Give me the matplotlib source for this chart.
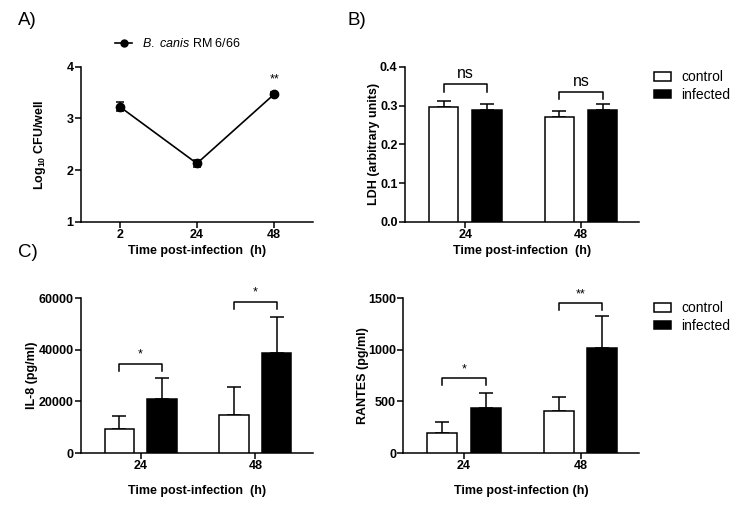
import matplotlib
matplotlib.use("Agg")
import matplotlib.pyplot as plt
from matplotlib.patches import Patch
from matplotlib.lines import Line2D
import numpy as np

plt.rcParams['font.family'] = ['Liberation Sans', 'DejaVu Sans']
plt.rcParams['mathtext.fontset'] = 'custom'
plt.rcParams['mathtext.rm'] = 'Liberation Sans'
plt.rcParams['mathtext.it'] = 'Liberation Sans:italic'
plt.rcParams['mathtext.bf'] = 'Liberation Sans:bold'

# panel A data
cfu_times = ['2', '24', '48']
cfu_mean = [3.23, 2.13, 3.47]
cfu_err = [0.08, 0.07, 0.04]

# bar panels
groups = ['24', '48']
ldh_control = [0.297, 0.271]
ldh_control_err = [0.015, 0.015]
ldh_infected = [0.289, 0.289]
ldh_infected_err = [0.015, 0.016]

il8_control = [9500, 14700]
il8_control_err = [4700, 10800]
il8_infected = [20900, 38700]
il8_infected_err = [8100, 13900]

rantes_control = [195, 410]
rantes_control_err = [105, 130]
rantes_infected = [435, 1015]
rantes_infected_err = [145, 310]

# significance brackets: (top, leg end, label)
ldh_sig = [(0.355, 0.335, 'ns'), (0.335, 0.317, 'ns')]
il8_sig = [(34500, 31700, '*'), (58500, 55700, '*')]
rantes_sig = [(725, 660, '*'), (1450, 1385, '**')]

fig = plt.figure(figsize=(7.43, 5.22), dpi=100)

tick_fs = 9
lab_fs = 9


def style_ax(ax):
    for s in ['top', 'right']:
        ax.spines[s].set_visible(False)
    for s in ['left', 'bottom']:
        ax.spines[s].set_linewidth(1.1)
    ax.tick_params(width=1.1, length=4.5, labelsize=tick_fs, pad=0.8)
    for lab in ax.get_xticklabels() + ax.get_yticklabels():
        lab.set_fontweight('bold')


def bar_panel(ax, ctrl, ctrl_err, inf, inf_err, sig, ylim, yticks, sig_fs):
    x = np.arange(len(groups))
    off = 0.186
    w = 0.256
    ax.bar(x - off, ctrl, w, color='white', edgecolor='black', linewidth=1.1, zorder=3)
    ax.bar(x + off, inf, w, color='black', edgecolor='black', linewidth=1.1, zorder=3)
    ax.errorbar(x - off, ctrl, yerr=[np.zeros(len(ctrl)), ctrl_err], fmt='none',
                ecolor='black', elinewidth=1.1, capsize=5, capthick=1.1, zorder=2)
    ax.errorbar(x + off, inf, yerr=[np.zeros(len(inf)), inf_err], fmt='none',
                ecolor='black', elinewidth=1.1, capsize=5, capthick=1.1, zorder=2)
    for i, (top, leg, txt) in enumerate(sig):
        xl, xr = x[i] - off, x[i] + off
        ax.plot([xl, xl, xr, xr], [leg, top, top, leg], color='black', lw=1.1,
                clip_on=False)
        dy = (ylim[1] - ylim[0]) * 0.02
        ax.text((xl + xr) / 2, top + dy, txt, ha='center', va='bottom',
                fontsize=sig_fs)
    ax.set_xlim(-0.52, 1.5)
    ax.set_ylim(*ylim)
    ax.set_yticks(yticks)
    ax.set_xticks(x)
    ax.set_xticklabels(groups)
    style_ax(ax)


leg_kw = dict(frameon=False, fontsize=10, handlelength=1.25, handleheight=0.6,
              handletextpad=0.75, labelspacing=0.25, loc='center left')

# A
axA = fig.add_axes([0.109, 0.575, 0.312, 0.297])
xa = np.arange(len(cfu_times))
axA.errorbar(xa, cfu_mean, yerr=cfu_err, color='black', marker='o', ms=6,
             lw=1.2, capsize=3, capthick=1.1, elinewidth=1.1)
axA.text(xa[2], cfu_mean[2] + cfu_err[2] + 0.12, '**', ha='center', va='bottom', fontsize=9)
axA.set_xlim(-0.5, 2.5)
axA.set_ylim(1, 4)
axA.set_yticks([1, 2, 3, 4])
axA.set_xticks(xa)
axA.set_xticklabels(cfu_times)
axA.set_ylabel(r'Log$_{\mathbf{10}}$ CFU/well', fontsize=lab_fs, fontweight='bold')
axA.yaxis.set_label_coords(-0.142, 0.5)
axA.set_xlabel('Time post-infection  (h)', fontsize=lab_fs, fontweight='bold', labelpad=3)
style_ax(axA)
a_handle = Line2D([], [], color='black', marker='o', ms=5, lw=1.2)
axA.legend(handles=[a_handle], labels=[r'$\mathit{B.\ canis}$ RM 6/66'],
           loc='center left', bbox_to_anchor=(0.1, 1.15), frameon=False,
           fontsize=9, handlelength=1.3, handletextpad=0.8)

# B
axB = fig.add_axes([0.545, 0.575, 0.315, 0.297])
bar_panel(axB, ldh_control, ldh_control_err, ldh_infected, ldh_infected_err,
          ldh_sig, (0, 0.4), [0.0, 0.1, 0.2, 0.3, 0.4], 11.5)
axB.set_yticklabels(['0.0', '0.1', '0.2', '0.3', '0.4'], fontweight='bold')
axB.set_ylabel('LDH (arbitrary units)', fontsize=lab_fs, fontweight='bold')
axB.yaxis.set_label_coords(-0.105, 0.5)
axB.set_xlabel('Time post-infection  (h)', fontsize=lab_fs, fontweight='bold', labelpad=3)
leg_handles = [Patch(facecolor='white', edgecolor='black', linewidth=1.1, label='control'),
               Patch(facecolor='black', edgecolor='black', linewidth=1.1, label='infected')]
axB.legend(handles=leg_handles, bbox_to_anchor=(1.01, 0.875), **leg_kw)

# C IL-8
axC = fig.add_axes([0.109, 0.132, 0.312, 0.297])
bar_panel(axC, il8_control, il8_control_err, il8_infected, il8_infected_err,
          il8_sig, (0, 60000), [0, 20000, 40000, 60000], 9)
axC.set_ylabel('IL-8 (pg/ml)', fontsize=lab_fs, fontweight='bold')
axC.yaxis.set_label_coords(-0.186, 0.5)
axC.set_xlabel('Time post-infection  (h)', fontsize=lab_fs, fontweight='bold', labelpad=9)

# C RANTES
axD = fig.add_axes([0.543, 0.132, 0.317, 0.297])
bar_panel(axD, rantes_control, rantes_control_err, rantes_infected, rantes_infected_err,
          rantes_sig, (0, 1500), [0, 500, 1000, 1500], 9)
axD.set_ylabel('RANTES (pg/ml)', fontsize=lab_fs, fontweight='bold')
axD.yaxis.set_label_coords(-0.145, 0.5)
axD.set_xlabel('Time post-infection (h)', fontsize=lab_fs, fontweight='bold', labelpad=9)
axD.legend(handles=leg_handles, bbox_to_anchor=(1.01, 0.877), **leg_kw)

# panel letters
fig.text(0.024, 0.96, 'A)', fontsize=13.5, va='center')
fig.text(0.468, 0.96, 'B)', fontsize=13.5, va='center')
fig.text(0.024, 0.517, 'C)', fontsize=13.5, va='center')

fig.savefig('out.png', dpi=100)
